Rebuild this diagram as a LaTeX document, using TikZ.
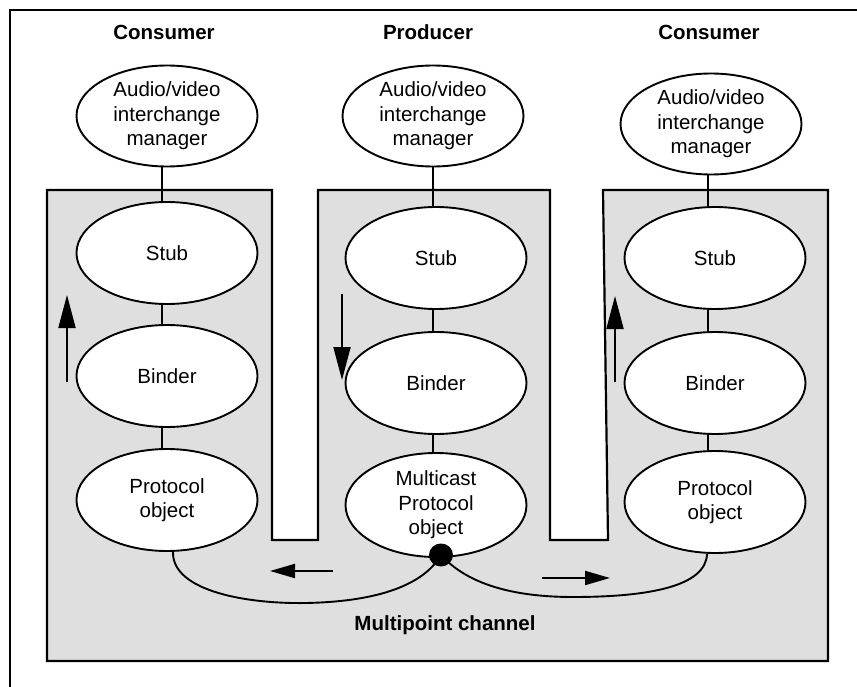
\documentclass[tikz,border=0pt]{standalone}
\usepackage{fontspec}
\setmainfont{Liberation Sans}
\usetikzlibrary{shapes.geometric,arrows.meta}
\definecolor{panel}{RGB}{223,223,223}
\begin{document}
\begin{tikzpicture}[x=1pt,y=-1pt,
  oval/.style={ellipse,draw,line width=1.9pt,fill=white,minimum width=181pt,minimum height=102pt,inner sep=-6pt,align=center,font=\fontsize{20.5}{24.5}\selectfont},
  head/.style={font=\bfseries\fontsize{20.5}{24.5}\selectfont,anchor=base},
  link/.style={line width=1.9pt},
  vflow/.style={line width=1.9pt,-{Triangle[length=33pt,width=17pt]}},
  hflow/.style={line width=1.9pt,-{Triangle[length=25pt,width=14pt]}}]
\useasboundingbox (0,0) rectangle (857,687);
% outer frame (partly outside the page)
\draw[line width=1.9pt] (10,687) -- (10,10) -- (857,10);
% gray panel
\draw[line width=2.2pt,fill=panel] (47,190) -- (272,190) -- (272,540) -- (318,540) -- (318,190)
  -- (550,190) -- (550,540) -- (608,540) -- (603,190) -- (828,190) -- (828,661) -- (47,661) -- cycle;
% headings
\node[head] (h1) at (164,40) {Consumer};
\node[head] (h2) at (428,40) {Producer};
\node[head] (h3) at (709,40) {Consumer};
\node[head] (mp) at (445,630) {Multipoint channel};
% ovals
\node[oval,minimum height=101pt] (av1) at (167,116) {Audio/video\\interchange\\manager};
\node[oval,minimum height=101pt] (av2) at (433,116) {Audio/video\\interchange\\manager};
\node[oval,minimum height=101pt] (av3) at (711,124) {Audio/video\\interchange\\manager};
\node[oval] (stub1) at (167,253) {Stub};
\node[oval] (stub2) at (436,258) {Stub};
\node[oval] (stub3) at (715,258) {Stub};
\node[oval] (bind1) at (167,376) {Binder};
\node[oval] (bind2) at (436,383) {Binder};
\node[oval] (bind3) at (715,383) {Binder};
\node[oval] (proto1) at (167,500) {Protocol\\object};
\node[oval,minimum height=104pt] (mc) at (436,505) {Multicast\\Protocol\\object};
\node[oval] (proto3) at (715,502) {Protocol\\object};
% vertical links
\draw[link] ([xshift=-5pt]av1.south) -- ([xshift=-5pt]stub1.north);
\draw[link] ([xshift=-5pt]stub1.south) -- ([xshift=-5pt]bind1.north);
\draw[link] ([xshift=-5pt]bind1.south) -- ([xshift=-5pt]proto1.north);
\draw[link] (av2.south) -- ([xshift=-3pt]stub2.north);
\draw[link] ([xshift=-3pt]stub2.south) -- ([xshift=-3pt]bind2.north);
\draw[link] ([xshift=-3pt]bind2.south) -- ([xshift=-3pt]mc.north);
\draw[link] ([xshift=-3pt]av3.south) -- ([xshift=-7pt]stub3.north);
\draw[link] ([xshift=-7pt]stub3.south) -- ([xshift=-7pt]bind3.north);
\draw[link] ([xshift=-7pt]bind3.south) -- ([xshift=-7pt]proto3.north);
% multipoint channel
\coordinate (dotc) at (441,555);
\draw[link] ([xshift=6pt]proto1.south) .. controls (172,592) and (250,604) .. (305,603)
  .. controls (370,602) and (422,588) .. (dotc);
\draw[link] (dotc) .. controls (470,587) and (520,597) .. (573,597)
  .. controls (650,597) and (706,586) .. ([xshift=-8pt]proto3.south);
\node[ellipse,fill=black,minimum width=24pt,minimum height=23pt,inner sep=0pt] (dot) at (dotc) {};
% direction arrows
\coordinate (a1s) at (67,382); \coordinate (a1e) at (67,295);
\coordinate (a2s) at (342,294); \coordinate (a2e) at (342,380);
\coordinate (a3s) at (615,382); \coordinate (a3e) at (615,296);
\coordinate (a4s) at (333,571); \coordinate (a4e) at (270,571);
\coordinate (a5s) at (542,578); \coordinate (a5e) at (610,578);
\draw[vflow] (a1s) -- (a1e);
\draw[vflow] (a2s) -- (a2e);
\draw[vflow] (a3s) -- (a3e);
\draw[hflow] (a4s) -- (a4e);
\draw[hflow] (a5s) -- (a5e);
\end{tikzpicture}
\end{document}
